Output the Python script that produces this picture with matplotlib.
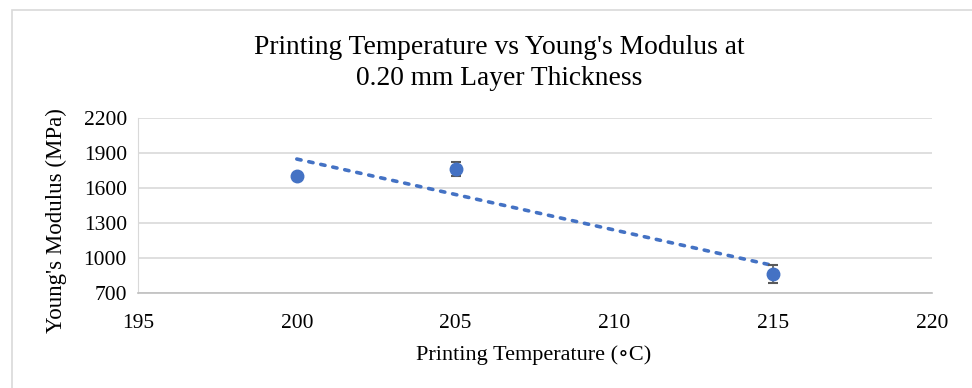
import matplotlib
matplotlib.use("Agg")
import matplotlib.pyplot as plt
import numpy as np
from matplotlib.patches import Rectangle

temps = [200, 205, 215]
modulus = [1703, 1762, 863]
errors = [15, 62, 75]

x_ticks = [195, 200, 205, 210, 215, 220]
y_ticks = [700, 1000, 1300, 1600, 1900, 2200]

plt.rcParams['font.family'] = ['Liberation Serif', 'DejaVu Serif']

W, H = 972, 388
fig = plt.figure(figsize=(W/100, H/100), dpi=100)
fig.patches.append(Rectangle((12/W, -0.1), 1.2, 1 - 10/H + 0.1, transform=fig.transFigure,
                             fill=False, edgecolor='#d9d9d9', linewidth=1.2))
ax = fig.add_axes([138/W, 1 - 293/H, (932-138)/W, (293-118)/H])

blue = '#4472c4'
ax.errorbar(temps, modulus, yerr=errors, fmt='o', color=blue, markersize=9,
            ecolor='#595959', elinewidth=1.2, capsize=3.5, capthick=1.5, zorder=3)

coef = np.polyfit(temps, modulus, 1)
xt = np.array([min(temps), max(temps)])
ax.plot(xt, np.polyval(coef, xt), linestyle=(0, (1.2, 2.2)), color=blue,
        linewidth=2.6, dash_capstyle='round', zorder=2)

ax.set_xlim(195, 220)
ax.set_ylim(700, 2200)
ax.set_xticks(x_ticks)
ax.set_yticks(y_ticks)
ax.yaxis.grid(True, color='#d9d9d9', linewidth=1.2)
ax.set_axisbelow(True)
for s in ['top', 'right']:
    ax.spines[s].set_visible(False)
ax.spines['left'].set_color('#d9d9d9')
ax.spines['bottom'].set_color('#bfbfbf')
ax.spines['bottom'].set_linewidth(1.2)
ax.tick_params(axis='both', length=0, labelsize=15.5, colors='#000000')
ax.tick_params(axis='y', pad=8)
ax.tick_params(axis='x', pad=15)

fig.text(534/W, 1 - 355/H, 'Printing Temperature (\u2218C)', fontsize=16,
         ha='center', va='center')
fig.text(56/W, 1 - 221/H, "Young's Modulus (MPa)", fontsize=16.5,
         ha='center', va='center', rotation=90)
fig.text(499/W, 1 - 63/H,
         "Printing Temperature vs Young's Modulus at\n0.20 mm Layer Thickness",
         ha='center', va='center', fontsize=19.8, linespacing=1.33)

fig.savefig('out.png', dpi=100)
